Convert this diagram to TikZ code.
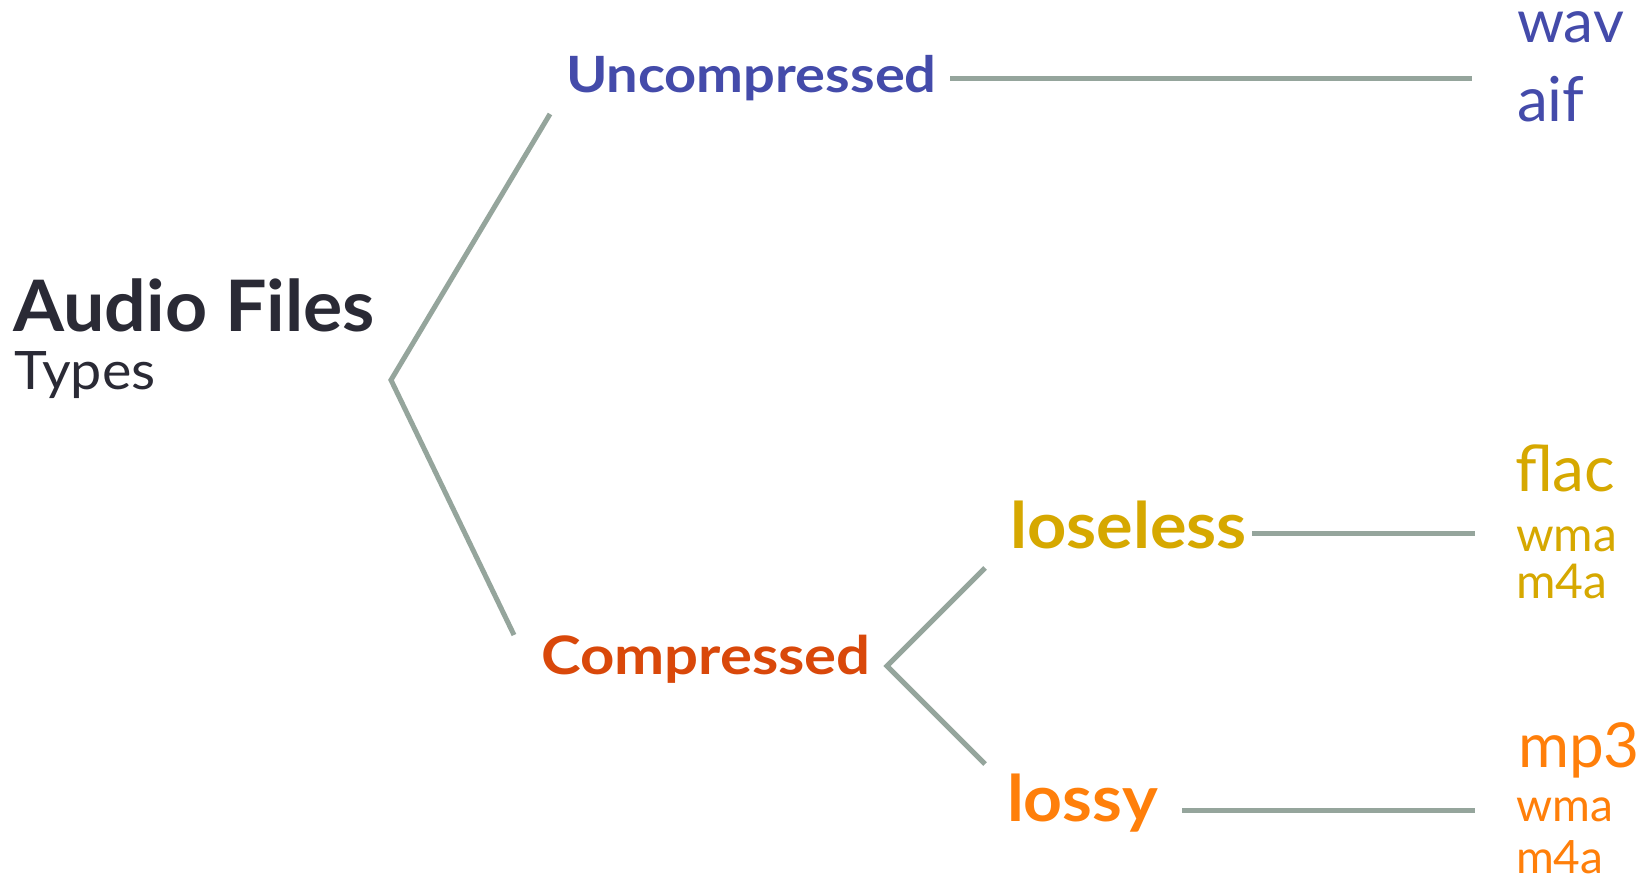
\documentclass[tikz,border=0pt]{standalone}
\usepackage{fontspec}
\setmainfont{Lato}
\definecolor{cdark}{HTML}{2A2A35}
\definecolor{cblue}{HTML}{444BAA}
\definecolor{ccomp}{HTML}{D9480A}
\definecolor{cgold}{HTML}{D6A800}
\definecolor{corange}{HTML}{FF7F0A}
\definecolor{cline}{HTML}{95A59C}
\begin{document}
\begin{tikzpicture}[x=1pt,y=-1pt,
  lbl/.style={anchor=base west,inner sep=0pt,outer sep=0pt},
  conn/.style={draw=cline,line width=5pt}]
\useasboundingbox (0,0) rectangle (1652,877);
\fill[white] (0,0) rectangle (1652,877);
% texts
\node[lbl,text=cdark,font=\fontsize{71}{71}\selectfont\bfseries] (audio) at (13,331) {\scalebox{1.035}[1]{Audio Files}};
\node[lbl,text=cdark,font=\fontsize{53}{53}\selectfont] (types) at (14,389) {\scalebox{1.05}[1]{Types}};
\node[lbl,text=cblue,font=\fontsize{50}{50}\selectfont\bfseries] (unc) at (566,93) {\scalebox{1.12}[1]{Uncompressed}};
\node[lbl,text=ccomp,font=\fontsize{53}{53}\selectfont\bfseries] (comp) at (541,674) {\scalebox{1.13}[1]{Compressed}};
\node[lbl,text=cgold,font=\fontsize{64}{64}\selectfont\bfseries] (losl) at (1010,548) {\scalebox{1.07}[1]{loseless}};
\node[lbl,text=corange,font=\fontsize{64}{64}\selectfont\bfseries] (lossy) at (1007,821) {\scalebox{1.06}[1]{lossy}};
\node[lbl,text=cblue,font=\fontsize{60}{60}\selectfont] (wav) at (1517,43) {wav};
\node[lbl,text=cblue,font=\fontsize{62}{62}\selectfont] (aif) at (1517,122) {aif};
\node[lbl,text=cgold,font=\fontsize{64}{64}\selectfont] (flac) at (1515,491) {flac};
\node[lbl,text=cgold,font=\fontsize{48}{48}\selectfont] (wma1) at (1516,551) {wma};
\node[lbl,text=cgold,font=\fontsize{48}{48}\selectfont] (m4a1) at (1516,598) {m4a};
\node[lbl,text=corange,font=\fontsize{62}{62}\selectfont] (mp3) at (1518,767) {mp3};
\node[lbl,text=corange,font=\fontsize{46}{46}\selectfont] (wma2) at (1516,821) {wma};
\node[lbl,text=corange,font=\fontsize{46}{46}\selectfont] (m4a2) at (1516,873) {m4a};
% connector points
\coordinate (root) at (391,380);
\coordinate (uncIn) at (550,114);
\coordinate (compIn) at (514,635);
\coordinate (uncOut) at (950,79);
\coordinate (uncEnd) at (1472,79);
\coordinate (compOut) at (887,666);
\coordinate (loslIn) at (985,568);
\coordinate (lossyIn) at (985,764);
\coordinate (loslOut) at (1252,533);
\coordinate (loslEnd) at (1475,533);
\coordinate (lossyOut) at (1182,810);
\coordinate (lossyEnd) at (1475,810);
\draw[conn] (uncIn) -- (root) -- (compIn);
\draw[conn] (uncOut) -- (uncEnd);
\draw[conn] (loslIn) -- (compOut) -- (lossyIn);
\draw[conn] (loslOut) -- (loslEnd);
\draw[conn] (lossyOut) -- (lossyEnd);
\end{tikzpicture}
\end{document}
